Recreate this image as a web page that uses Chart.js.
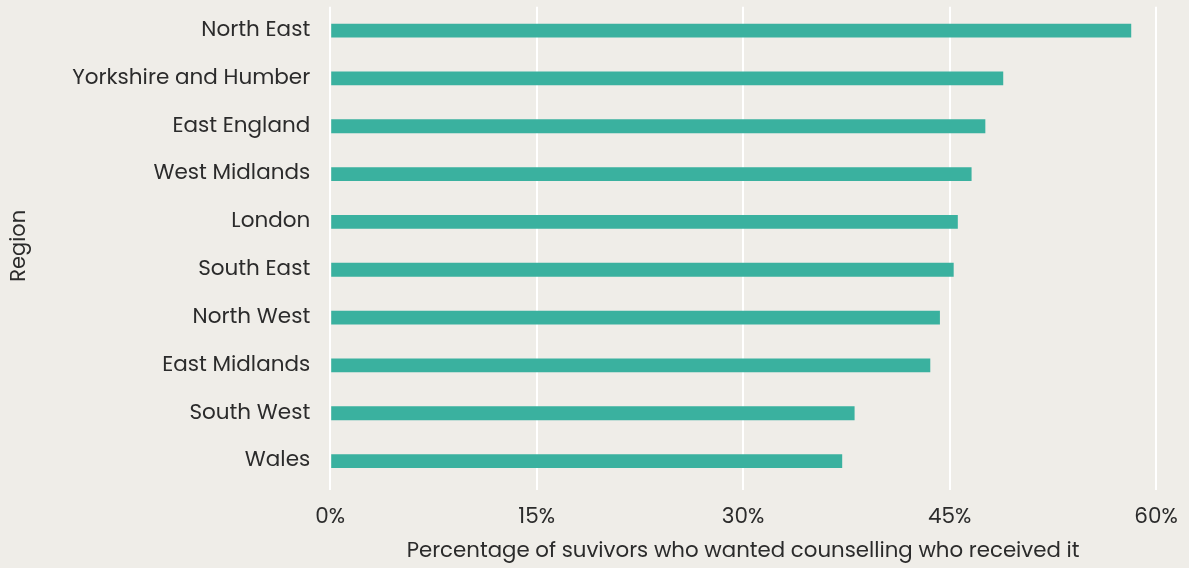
<!DOCTYPE html>
<html>
<head>
<meta charset="utf-8">
<script src="https://cdn.jsdelivr.net/npm/chart.js@4"></script>
<style>
  html, body { margin: 0; padding: 0; background: #efede8; }
  #wrap { width: 1189px; height: 568px; }
</style>
</head>
<body>
<div id="wrap"><canvas id="regionChart"></canvas></div>
<script>
// regions, top to bottom
const regions = [
    "North East", "Yorkshire and Humber", "East England", "West Midlands", "London",
    "South East", "North West", "East Midlands", "South West", "Wales"
];

// share of survivors wanting counselling who got it (%)
const received = [58.2, 48.9, 47.6, 46.6, 45.6, 45.3, 44.3, 43.6, 38.1, 37.2];

const xTicks = [0, 15, 30, 45, 60];

const textColor = '#2b2b2b';
const fontFamily = "'Poppins', 'Inter', 'Open Sans', sans-serif";

const ctx = document.getElementById('regionChart').getContext('2d');

const chart = new Chart(ctx, {
    type: 'bar',
    data: {
        labels: regions,
        datasets: [{
            label: 'Received counselling',
            data: received,
            backgroundColor: '#3ab19f',
            borderWidth: 0,
            barPercentage: 0.58,
            categoryPercentage: 0.5
        }]
    },
    options: {
        indexAxis: 'y',
        responsive: true,
        maintainAspectRatio: false,
        animation: false,
        layout: { padding: { top: 0, right: 0, bottom: 4, left: 5 } },
        plugins: {
            legend: { display: false },
            tooltip: { enabled: false }
        },
        scales: {
            x: {
                min: 0,
                max: 60,
                afterBuildTicks: (axis) => {
                    axis.ticks = xTicks.map(v => ({ value: v }));
                },
                // fixed height for tick labels + title band, tighter right edge
                afterFit: (axis) => {
                    axis.height = 79;
                    axis.paddingRight = 33;
                },
                grid: {
                    color: '#ffffff',
                    lineWidth: 2,
                    drawTicks: true,
                    tickLength: 5,
                    tickColor: '#ffffff'
                },
                border: { display: false },
                ticks: {
                    color: textColor,
                    font: { family: fontFamily, size: 21.5 },
                    padding: 15,
                    callback: (v) => v + '%'
                },
                title: {
                    display: true,
                    text: 'Percentage of suvivors who wanted counselling who received it',
                    color: textColor,
                    font: { family: fontFamily, size: 21.3 },
                    padding: { top: 0, bottom: 0 }
                }
            },
            y: {
                // invisible tick marks keep the labels off the bars
                grid: {
                    display: true,
                    drawOnChartArea: false,
                    drawTicks: true,
                    tickLength: 20,
                    tickColor: 'rgba(0,0,0,0)'
                },
                border: { display: false },
                ticks: {
                    color: textColor,
                    font: { family: fontFamily, size: 21.5, lineHeight: 0.62 },
                    padding: 0
                },
                title: {
                    display: true,
                    text: 'Region',
                    color: textColor,
                    font: { family: fontFamily, size: 21 },
                    padding: { top: 2, bottom: 40 }
                }
            }
        }
    }
});
</script>
</body>
</html>
